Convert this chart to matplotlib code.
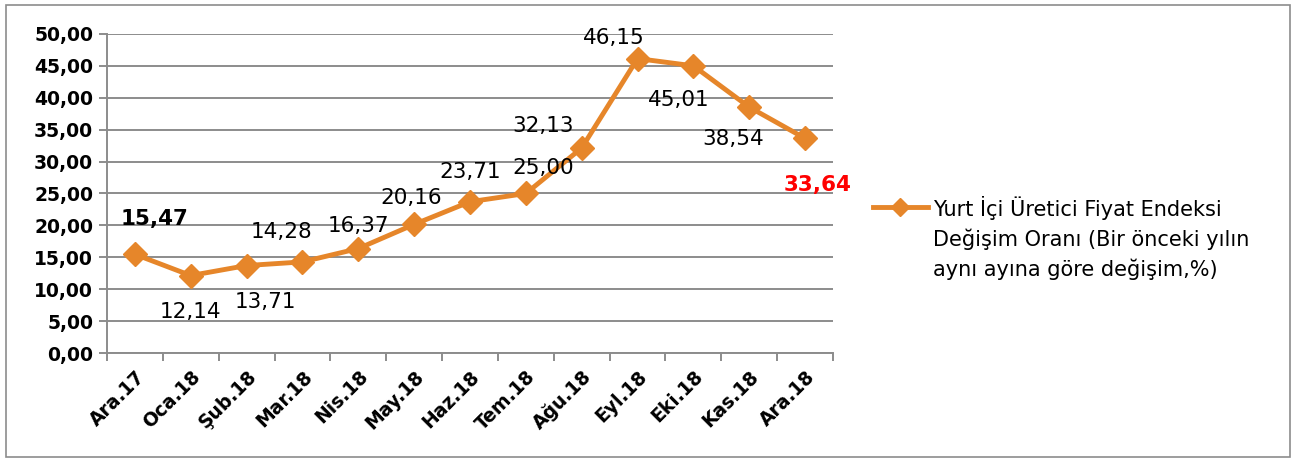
import matplotlib
matplotlib.use("Agg")
import matplotlib.pyplot as plt
from matplotlib.lines import Line2D
from matplotlib.patches import Rectangle
import numpy as np

categories = ["Ara.17", "Oca.18", "Şub.18", "Mar.18", "Nis.18", "May.18", "Haz.18",
              "Tem.18", "Ağu.18", "Eyl.18", "Eki.18", "Kas.18", "Ara.18"]
values = [15.47, 12.14, 13.71, 14.28, 16.37, 20.16, 23.71, 25.00, 32.13, 46.15, 45.01, 38.54, 33.64]
value_labels = ["15,47", "12,14", "13,71", "14,28", "16,37", "20,16", "23,71",
                "25,00", "32,13", "46,15", "45,01", "38,54", "33,64"]
yticks = [0, 5, 10, 15, 20, 25, 30, 35, 40, 45, 50]
ytick_labels = ["0,00", "5,00", "10,00", "15,00", "20,00", "25,00", "30,00",
                "35,00", "40,00", "45,00", "50,00"]
series_name = "Yurt İçi Üretici Fiyat Endeksi\nDeğişim Oranı (Bir önceki yılın\naynı ayına göre değişim,%)"

# label offsets in pixels (dx, dy)
offsets = [(20, 35), (0, -36), (19, -36), (-21, 30), (0, 23), (-3, 26), (0, 30),
           (17, 26), (-39, 22), (-24, 21), (-15, -34), (-16, -32), (12, -47)]

plt.rcParams['font.family'] = ['DejaVu Sans']
W, H = 1296, 461
fig = plt.figure(figsize=(W / 100, H / 100), dpi=100)
ax = fig.add_axes([107 / W, 1 - 353 / H, (833 - 107) / W, (353 - 34) / H])

color = '#E6862A'
grid_c = '#8C8C8C'
x = np.arange(len(categories))
ax.plot(x, values, color=color, lw=3.5, marker='D', markersize=12.5, zorder=3)

ax.set_xlim(-0.5, len(categories) - 0.5)
ax.set_ylim(0, 50)
ax.set_yticks(yticks)
ax.set_yticklabels(ytick_labels, fontsize=13.5, fontweight='bold')
ax.yaxis.grid(True, color=grid_c, lw=1.4)
ax.set_axisbelow(True)
ax.set_xticks(x)
ax.set_xticklabels(categories, rotation=45, ha='right', rotation_mode='anchor',
                   fontsize=13.5, fontweight='bold')
ax.set_xticks(np.arange(-0.5, len(categories), 1), minor=True)
ax.tick_params(axis='x', which='major', length=0, pad=10)
ax.tick_params(axis='x', which='minor', length=6, width=1.4, color=grid_c, direction='out')
ax.tick_params(axis='y', length=6, width=1.4, color=grid_c, pad=4)
for s in ['top', 'right']:
    ax.spines[s].set_visible(False)
for s in ['left', 'bottom']:
    ax.spines[s].set_color(grid_c)
    ax.spines[s].set_linewidth(1.4)

for i, (v, lab) in enumerate(zip(values, value_labels)):
    dx, dy = offsets[i]
    kw = dict(fontsize=15.5, color='black')
    if i == 0:
        kw['fontweight'] = 'bold'
    if i == len(values) - 1:
        kw.update(fontweight='bold', color='red')
    ax.annotate(lab, (x[i], v), xytext=(dx, dy), textcoords='offset pixels',
                ha='center', va='center', **kw)

# legend
ly = 1 - 207 / H
fig.add_artist(Line2D([873 / W, 900 / W, 928 / W], [ly, ly, ly], color=color, lw=3.5,
                      marker='D', markersize=9, markevery=[1]))
fig.text(933 / W, 1 - 196 / H, series_name, fontsize=15, va='top', ha='left', linespacing=1.5)

fig.add_artist(Rectangle((6 / W, 4 / H), (W - 12) / W, (H - 9) / H, transform=fig.transFigure,
                         fill=False, edgecolor='#8C8C8C', lw=1.2))

fig.savefig("out.png", dpi=100)
